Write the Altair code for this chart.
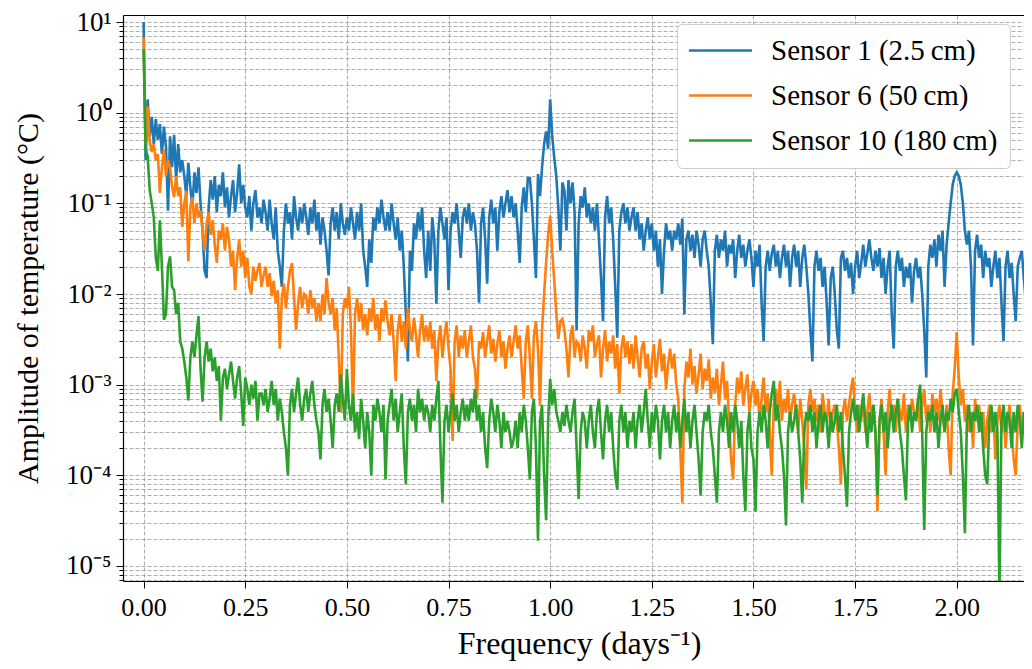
import altair as alt
import numpy as np
import pandas as pd

FREQ_STEP = 0.005  # days^-1 between spectral samples

sensor1 = [
    10, .3, 1.4, .55, .9, .45, .85, .5, .75, .35, .7, .42, .083, .55, .25, .57, .18, .45, .22, .3,
    .2, .12, .28, .15, .09, .22, .13, .25, .1, .05, .018, .015, .09, .18, .11, .2, .08, .16, .12, .22,
    .09, .15, .07, .12, .18, .08, .13, .27, .1, .16, .09, .07, .12, .05, .1, .14, .07, .09, .06, .11,
    .08, .05, .11, .06, .04, .09, .03, .02, .012, .05, .1, .06, .08, .04, .12, .07, .05, .09, .06, .1,
    .07, .045, .09, .06, .11, .05, .08, .035, .07, .05, .03, .016, .06, .09, .05, .08, .04, .1, .06, .045,
    .07, .05, .09, .06, .04, .08, .05, .1, .03, .02, .012, .04, .022, .07, .05, .09, .06, .11, .07, .05,
    .08, .05, .1, .06, .04, .07, .03, .05, .02, .006, .0018, .03, .018, .06, .04, .08, .05, .09, .03, .015,
    .05, .018, .07, .04, .0078, .05, .09, .06, .04, .07, .011, .05, .08, .06, .1, .05, .025, .07, .09, .06,
    .1, .05, .08, .06, .03, .008, .06, .09, .04, .013, .07, .11, .06, .09, .03, .08, .12, .07, .1, .14,
    .08, .12, .07, .1, .05, .022, .09, .15, .08, .19, .19, .1, .04, .015, .21, .12, .25, .45, .62, .4,
    1.4, .55, .32, .2, .09, .03, .17, .14, .05, .18, .1, .17, .08, .004, .06, .12, .09, .15, .07, .1,
    .06, .09, .05, .1, .04, .015, .005, .07, .12, .06, .09, .04, .012, .0033, .05, .08, .1, .06, .09, .05,
    .07, .09, .05, .08, .04, .06, .03, .05, .07, .04, .06, .03, .05, .02, .04, .01, .03, .06, .04, .05,
    .03, .05, .04, .06, .035, .068, .006, .04, .05, .03, .045, .025, .05, .035, .02, .04, .05, .03, .02, .008,
    .0028, .03, .045, .025, .04, .03, .05, .02, .035, .028, .04, .015, .03, .045, .025, .035, .02, .03, .04, .025,
    .012, .03, .02, .035, .008, .003, .02, .03, .018, .028, .035, .02, .03, .015, .025, .035, .02, .03, .012, .025,
    .035, .02, .03, .012, .025, .035, .02, .01, .004, .0018, .02, .03, .018, .025, .012, .02, .008, .0027, .015, .02,
    .01, .004, .0025, .025, .03, .018, .025, .015, .022, .01, .02, .03, .015, .022, .035, .02, .028, .04, .025, .018,
    .03, .02, .032, .015, .025, .01, .02, .03, .006, .0025, .02, .03, .018, .025, .012, .02, .015, .022, .008, .018,
    .025, .015, .02, .01, .004, .0012, .02, .035, .025, .04, .02, .045, .03, .05, .012, .035, .06, .1, .16, .2,
    .22, .2, .16, .1, .05, .035, .05, .02, .0027, .03, .045, .025, .035, .015, .03, .02, .025, .012, .02, .03,
    .015, .025, .008, .003, .02, .03, .015, .022, .01, .005, .02, .025, .03, .015, .008, .0019, .035, .03, .02,
]

sensor6 = [
    6.8, .45, 1.17, .48, .37, .45, .3, .35, .13, .25, .39, .2, .3, .25, .15, .117, .2, .12, .15, .055,
    .1, .137, .023, .09, .117, .06, .1, .07, .083, .05, .03, .06, .08, .045, .065, .035, .022, .05, .04, .06,
    .03, .055, .04, .02, .03, .011, .025, .04, .02, .03, .015, .025, .012, .01, .02, .014, .018, .022, .012, .016,
    .02, .012, .017, .0095, .014, .008, .011, .0025, .009, .013, .007, .012, .018, .022, .009, .004, .008, .012, .007, .01,
    .0095, .006, .011, .007, .009, .005, .008, .005, .01, .006, .015, .008, .006, .009, .004, .007, .002, .0005, .006, .009,
    .007, .012, .004, .0005, .006, .009, .005, .008, .004, .006, .0035, .007, .005, .009, .004, .006, .003, .007, .005, .0085,
    .005, .0035, .006, .003, .0011, .004, .006, .003, .005, .0025, .007, .004, .003, .0055, .0035, .002, .004, .006, .003, .0045,
    .003, .005, .0025, .004, .0011, .003, .0045, .002, .0035, .005, .0025, .0015, .00024, .003, .0045, .002, .0035, .0025, .004, .002,
    .003, .0045, .002, .0015, .0007, .003, .0025, .0038, .002, .003, .0045, .0022, .0032, .0018, .0028, .004, .002, .003, .0015, .0025,
    .0035, .002, .003, .0045, .0025, .0035, .0015, .0007, .003, .0045, .002, .0007, .0035, .005, .0025, .0006, .004, .01, .022, .045,
    .073, .03, .014, .006, .0032, .005, .0053, .004, .0025, .0012, .0035, .0045, .002, .003, .0028, .0018, .0035, .0025, .0015, .004,
    .003, .0045, .002, .0028, .0035, .0012, .0025, .004, .0018, .003, .0022, .0035, .0015, .0028, .0008, .0025, .0035, .002, .003, .0017,
    .0028, .0015, .0035, .002, .0012, .0025, .003, .0015, .0022, .0009, .0018, .0028, .0012, .002, .0032, .0014, .0022, .0009, .0017, .0025,
    .0015, .0022, .001, .0007, .0002, .00005, .0009, .0018, .0012, .0025, .001, .0016, .0008, .0013, .0022, .0009, .0015, .0011, .0019, .0007,
    .0012, .0008, .0015, .0006, .001, .0018, .0007, .0011, .0004, .00015, .00009, .0006, .0012, .0008, .0014, .0006, .0009, .0013, .0005, .0008,
    .0011, .0006, .0009, .0004, .0007, .0012, .0005, .0008, .0003, .0001, .0006, .0009, .0005, .0011, .0004, .0007, .0005, .0009, .0004, .0006,
    .0008, .0005, .0003, .0007, .0004, .0002, .00007, .0006, .0009, .0005, .0007, .0004, .0006, .0003, .0008, .0005, .0004, .0007, .0003, .0005,
    .0006, .0004, .0002, .00008, .0005, .0007, .0004, .0006, .0009, .0012, .0005, .0003, .0006, .0004, .0007, .0003, .0005, .0008, .0004, .0006,
    .0003, .00004, .0004, .0007, .0003, .0001, .0005, .0009, .0004, .0006, .0003, .0007, .0005, .0004, .0008, .0003, .0006, .0004, .0007, .0005,
    .0004, .0007, .0003, .0006, .0009, .0004, .0006, .0003, .0008, .0005, .0007, .0004, .0009, .0005, .0003, .0006, .0002, .0001, .0008, .0015,
    .0038, .0012, .0006, .0009, .0004, .0006, .0003, .0005, .0002, .0007, .0004, .0006, .0003, .0005, .0002, .0004, .0006, .0003, .0005, .00015,
    .0004, .0006, .0003, .0005, .0002, .0004, .0006, .0003, .00015, .0001, .0004, .0006, .0003, .0005, .0004, .0006, .0002, .0004, .0001,
]

sensor10 = [
    5.0, .4, .33, .14, .1, .07, .025, .018, .065, .02, .0052, .006, .02, .026, .012, .011, .006, .008, .003, .0025,
    .0018, .0012, .00067, .002, .003, .002, .0035, .0057, .0015, .00065, .002, .003, .0018, .0025, .0014, .002, .0011, .0016, .0004, .0012,
    .0015, .0009, .0013, .0018, .0011, .0007, .0012, .0016, .0008, .00035, .0012, .0009, .0006, .001, .0007, .0011, .0004, .0008, .0008, .0006,
    .0009, .0005, .0007, .0011, .0006, .0009, .0004, .0007, .0005, .0003, .0002, .0001, .0006, .0009, .0005, .0008, .0012, .0006, .0004, .0007,
    .0009, .0005, .0008, .0011, .0006, .0004, .0003, .00015, .0006, .0009, .0005, .0007, .0004, .0002, .0006, .0008, .0005, .0013, .0007, .0004,
    .0015, .0006, .0004, .0008, .0003, .0005, .00025, .0007, .0004, .0002, .0005, .0003, .0001, .0006, .0004, .0007, .0005, .0003, .0006, .00009,
    .0004, .0006, .0009, .0004, .0007, .0003, .0005, .0008, .0002, .00008, .0005, .0007, .0004, .0006, .0003, .0009, .0005, .0007, .0004, .0006,
    .0005, .0003, .0006, .0004, .0007, .0011, .0002, .00005, .0004, .0006, .0003, .0005, .0008, .0004, .0006, .0003, .0005, .0007, .0004, .0006,
    .0004, .0007, .0005, .0009, .0004, .0006, .0003, .0005, .0002, .00012, .0004, .0007, .0005, .0003, .0006, .0004, .0002, .0005, .0003, .0004,
    .0003, .0002, .00025, .0004, .0002, .0005, .0003, .0006, .0004, .0002, .00009, .0005, .0007, .0002, .000019, .0004, .0006, .0001, .000032, .0004,
    .00115, .0006, .0009, .0005, .0004, .0003, .0005, .00035, .0006, .0004, .0003, .0005, .0007, .0002, .000055, .0003, .0005, .0004, .0002, .0004,
    .0006, .0003, .0002, .0005, .0007, .0003, .00015, .0004, .0006, .0003, .0005, .0002, .0001, .00007, .0004, .0006, .0003, .0005, .0002, .0004,
    .0003, .0005, .0002, .0004, .0006, .0003, .0005, .0009, .0004, .0002, .0005, .0003, .0006, .0004, .00015, .0004, .0006, .0003, .0005, .0002,
    .0004, .0006, .0003, .0005, .0002, .0004, .0007, .0003, .0005, .0002, .0004, .0006, .0003, .00015, .00006, .0003, .0005, .0004, .0006, .0003,
    .0002, .0001, .00005, .0003, .0005, .0003, .0006, .0004, .0002, .0005, .0003, .0006, .0004, .0002, .0004, .0001, .00004, .0003, .0005, .0002,
    .00015, .00004, .0003, .0005, .0003, .0006, .0004, .0002, .0005, .0008, .0011, .0004, .0006, .0003, .0002, .0001, .000028, .0003, .0005, .0003,
    .0004, .0006, .0003, .00015, .00005, .0003, .0005, .0004, .0006, .0003, .0005, .0002, .0004, .0006, .0003, .0005, .0004, .0002, .0005, .0003,
    .0004, .0006, .0003, .0005, .0002, .0001, .000045, .0003, .0005, .0007, .0004, .0006, .0003, .0005, .0008, .0004, .0002, .0005, .0003, .0006,
    .0003, .00006, .0004, .0006, .0003, .0005, .0002, .0004, .0006, .0003, .0005, .0007, .0003, .0002, .0001, .000053, .0004, .0006, .0003, .0005,
    .0004, .0007, .001, .0003, .000025, .0003, .0005, .0004, .0006, .0003, .0005, .0002, .0004, .0006, .0003, .0005, .0004, .0007, .0005, .0008,
    .0009, .0005, .0003, .0001, .000023, .0004, .0006, .0003, .0005, .0004, .0006, .0003, .0005, .0002, .0001, .00008, .0004, .0006, .0003, .0005,
    .0003, .000005, .0004, .0006, .0003, .0005, .0004, .0002, .0005, .0003, .0006, .0004, .0002, .0005, .0003, .0004, .0006, .0003, .0005,
]

series_names = ["Sensor 1 (2.5\u2009cm)", "Sensor 6 (50\u2009cm)", "Sensor 10 (180\u2009cm)"]
series_colors = ["#1f77b4", "#ff7f0e", "#2ca02c"]
x_ticks = [0.0, 0.25, 0.5, 0.75, 1.0, 1.25, 1.5, 1.75, 2.0]
y_exp_labels = ["10\u207b\u2076", "10\u207b\u2075", "10\u207b\u2074", "10\u207b\u00b3",
                "10\u207b\u00b2", "10\u207b\u00b9", "10\u2070", "10\u00b9"]

X_DOMAIN = [-0.0507, 2.1654]
Y_DOMAIN = [6.83e-6, 11.95]

frames = []
for name, vals in zip(series_names, [sensor1, sensor6, sensor10]):
    frames.append(pd.DataFrame({
        "freq": np.round(np.arange(len(vals)) * FREQ_STEP, 4),
        "amp": vals,
        "series": name,
    }))
df = pd.concat(frames, ignore_index=True)

y_tick_values = []
for e in range(-6, 2):
    for m in range(1, 10):
        v = float(f"{m}e{e}")
        if Y_DOMAIN[0] <= v <= Y_DOMAIN[1]:
            y_tick_values.append(v)

is_major = "abs(log(datum.value)/LN10 - round(log(datum.value)/LN10)) < 0.01"
label_expr = (
    f"({is_major}) ? " + str(y_exp_labels).replace('"', "'") +
    "[round(log(datum.value)/LN10) + 6] : ''"
)

FONT = "Liberation Serif"

color = alt.Color(
    "series:N",
    scale=alt.Scale(domain=series_names, range=series_colors),
    title=None,
    legend=alt.Legend(
        orient="none", legendX=554, legendY=9,
        symbolType="M-3,0H3", symbolSize=441, symbolStrokeWidth=2.6,
        symbolOffset=17, labelOffset=36,
        labelFont=FONT, labelFontSize=29, labelColor="black", labelLimit=0,
        padding=12, rowPadding=15,
        fillColor="white", strokeColor="#cccccc", cornerRadius=5,
    ),
)

x_scale = alt.Scale(domain=X_DOMAIN, nice=False, zero=False)
x_bottom = alt.X(
    "freq:Q", scale=x_scale,
    axis=alt.Axis(
        values=x_ticks, format=".2f", title="Frequency (days\u207b\u00b9)",
        titleFontSize=32, titleX=456, titleY=72, titleBaseline="alphabetic",
        tickSize=7, labelPadding=6, labelFlush=False,
    ),
)
x_top = alt.X(
    "freq:Q", scale=x_scale,
    axis=alt.Axis(orient="top", labels=False, ticks=False, grid=False, title=""),
)
x_plain = alt.X("freq:Q", scale=x_scale, axis=None)

y_enc = alt.Y(
    "amp:Q",
    scale=alt.Scale(type="log", domain=Y_DOMAIN, nice=False),
    axis=alt.Axis(
        values=y_tick_values, labelExpr=label_expr, labelOverlap=False,
        labelFontSize=27,
        tickSize={"condition": {"test": is_major, "value": 7}, "value": 4},
        labelPadding=5, title="Amplitude of temperature (\u00b0C)", titleFontSize=30,
        titleX=-80, titleAngle=270, titleBaseline="bottom", labelFlush=False,
    ),
)

base = alt.Chart(df)
layers = []
for name, xe in zip(series_names, [x_bottom, x_top, x_plain]):
    layers.append(
        base.transform_filter(alt.datum.series == name)
        .mark_line(strokeWidth=2.6, clip=True)
        .encode(x=xe, y=y_enc, color=color)
    )

chart = (
    alt.layer(*layers)
    .resolve_axis(x="independent")
    .properties(
        width=901, height=566,
        padding={"left": 115, "top": 7, "right": 0, "bottom": 80},
        autosize=alt.AutoSizeParams(type="none"),
    )
    .configure_view(stroke="transparent")
    .configure_axis(
        labelFont=FONT, labelFontSize=26, labelColor="black",
        titleFont=FONT, titleFontSize=33, titleFontWeight="normal", titleColor="black",
        domainColor="black", domainWidth=1.2, tickColor="black", tickWidth=1,
        gridColor="#999999", gridDash=[4, 2], gridWidth=0.8,
    )
)

chart.save("out.html", embed_options={"renderer": "svg", "actions": False})
